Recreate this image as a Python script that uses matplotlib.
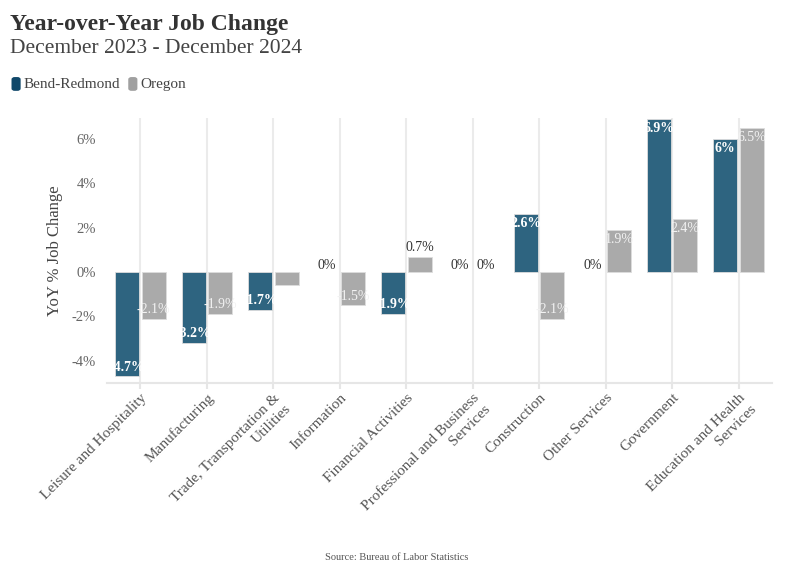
import numpy as np
import matplotlib
matplotlib.use("Agg")
import matplotlib.pyplot as plt
from matplotlib.patches import FancyBboxPatch

plt.rcParams['font.family'] = ['Liberation Serif', 'DejaVu Serif']

categories = ["Leisure and Hospitality", "Manufacturing", "Trade, Transportation &\nUtilities",
              "Information", "Financial Activities", "Professional and Business\nServices",
              "Construction", "Other Services", "Government", "Education and Health\nServices"]
bend = [-4.7, -3.2, -1.7, 0, -1.9, 0, 2.6, 0, 6.9, 6.0]
oregon = [-2.1, -1.9, -0.6, -1.5, 0.7, 0, -2.1, 1.9, 2.4, 6.5]
yticks = [-4, -2, 0, 2, 4, 6]

blue = "#2e6480"
grey = "#aaaaaa"

def fmt(v):
    if v == int(v):
        return f"{int(v)}%"
    return f"{v:g}%"

def add_labels(ax, xs, vals, inside_color, weight):
    for x, v in zip(xs, vals):
        if v == 0:
            ax.annotate("0%", (x, 0), xytext=(0, 0), textcoords="offset points",
                        ha="center", va="bottom", fontsize=10, color="#333333")
        elif abs(v) < 1:
            if v > 0:
                ax.annotate(fmt(v), (x, v), xytext=(0, 2), textcoords="offset points",
                            ha="center", va="bottom", fontsize=10, color="#333333")
            # tiny negative bars get no label
        elif v > 0:
            ax.annotate(fmt(v), (x, v), xytext=(0, -2), textcoords="offset points",
                        ha="center", va="top", fontsize=10, color=inside_color, fontweight=weight)
        else:
            ax.annotate(fmt(v), (x, v), xytext=(0, 2), textcoords="offset points",
                        ha="center", va="bottom", fontsize=10, color=inside_color, fontweight=weight)

def edges(vals):
    return ["none" if v == 0 else "#dddddd" for v in vals]

fig = plt.figure(figsize=(7.94, 5.75), dpi=100)
ax = fig.add_axes([0.135, 0.334, 0.837, 0.461])

x = np.arange(len(categories))
w = 0.36
off = 0.2
ax.bar(x - off, bend, width=w, color=blue, edgecolor=edges(bend), linewidth=0.6, zorder=3)
ax.bar(x + off, oregon, width=w, color=grey, edgecolor=edges(oregon), linewidth=0.6, zorder=3)
add_labels(ax, x - off, bend, "white", "bold")
add_labels(ax, x + off, oregon, "#f2f2f2", "normal")

ax.set_xlim(-0.5, 9.5)
ax.set_ylim(-5.0, 6.95)
ax.set_xticks(x)
ax.set_xticklabels(categories, rotation=45, ha="right", rotation_mode="anchor",
                   fontsize=11, color="#555555", multialignment="right")
ax.set_yticks(yticks)
ax.set_yticklabels([f"{t}%" for t in yticks], fontsize=10.5, color="#666666")
ax.tick_params(axis="y", length=0, pad=8)
ax.tick_params(axis="x", length=4, color="#e6e6e6", width=1.5, pad=2)
ax.grid(axis="x", color="#ebebeb", linewidth=1.5, zorder=0)
for s in ["top", "right", "left"]:
    ax.spines[s].set_visible(False)
ax.spines["bottom"].set_color("#e6e6e6")
ax.spines["bottom"].set_linewidth(1.5)
ax.set_ylabel("YoY % Job Change", fontsize=12, color="#444444", labelpad=6)

fig.text(0.0126, 0.957, "Year-over-Year Job Change", fontsize=17, fontweight="bold",
         color="#333333", va="center")
fig.text(0.0126, 0.915, "December 2023 - December 2024", fontsize=15.5, color="#444444", va="center")

# legend, placed box by box using measured text widths
renderer = fig.canvas.get_renderer()
px = 0.0145
for col, lab in [("#10486a", "Bend-Redmond"), ("#a0a0a0", "Oregon")]:
    box = FancyBboxPatch((px, 0.842), 0.0115, 0.024, boxstyle="round,pad=0,rounding_size=0.004",
                         transform=fig.transFigure, facecolor=col, edgecolor="none")
    fig.patches.append(box)
    t = fig.text(px + 0.0155, 0.853, lab, fontsize=11, color="#444444", va="center")
    bb = t.get_window_extent(renderer).transformed(fig.transFigure.inverted())
    px = bb.x1 + 0.01

fig.text(0.5, 0.031, "Source: Bureau of Labor Statistics", fontsize=7.5, color="#555555",
         ha="center", va="center")

fig.savefig("out.png", dpi=100, facecolor="white")
